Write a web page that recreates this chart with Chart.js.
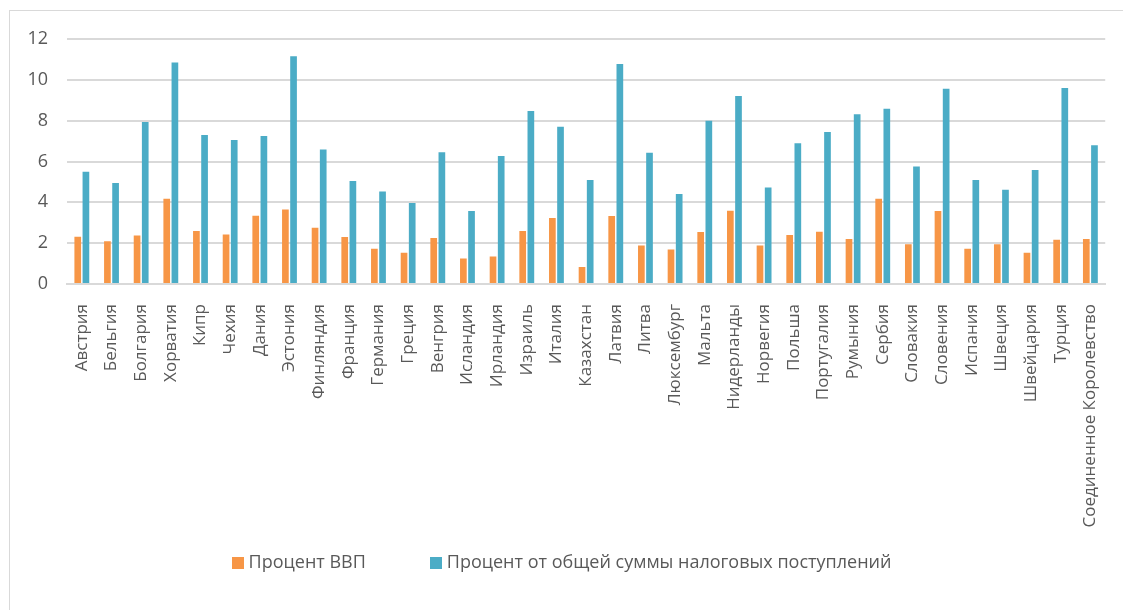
<!DOCTYPE html>
<html>
<head>
<meta charset="utf-8">
<script src="https://cdn.jsdelivr.net/npm/chart.js@4"></script>
<style>
  html, body { margin: 0; padding: 0; background: #fff; overflow: hidden; }
  #wrap { position: absolute; left: 9px; top: 10px; width: 1200px; height: 700px; border: 1px solid #d9d9d9; }
  #chart { position: absolute; left: 0; top: 0; }
  #legend { position: absolute; left: 0; top: 549px; width: 1123px; text-align: center;
            font: 18px 'Open Sans', sans-serif; color: #595959; line-height: 24px; white-space: nowrap; }
  #legend span.item { display: inline-block; margin: 0 32px; }
  #legend span.box { display: inline-block; width: 12px; height: 12px; margin-right: 5px; vertical-align: -1px; }
</style>
</head>
<body>
<div id="wrap"></div>
<canvas id="chart" width="1123" height="610"></canvas>
<div id="legend"></div>
<script>
// countries
const countries = ["Австрия", "Бельгия", "Болгария", "Хорватия", "Кипр", "Чехия", "Дания", "Эстония",
    "Финляндия", "Франция", "Германия", "Греция", "Венгрия", "Исландия", "Ирландия", "Израиль",
    "Италия", "Казахстан", "Латвия", "Литва", "Люксембург", "Мальта", "Нидерланды", "Норвегия",
    "Польша", "Португалия", "Румыния", "Сербия", "Словакия", "Словения", "Испания", "Швеция",
    "Швейцария", "Турция", "Соединенное Королевство"];

const gdpPct = [2.32, 2.09, 2.38, 4.18, 2.59, 2.43, 3.34, 3.65, 2.76, 2.30, 1.73, 1.53, 2.25, 1.25,
    1.35, 2.59, 3.23, 0.83, 3.33, 1.89, 1.69, 2.55, 3.59, 1.88, 2.40, 2.56, 2.20, 4.18, 1.95, 3.57,
    1.73, 1.95, 1.53, 2.17, 2.20];

const taxPct = [5.50, 4.95, 7.93, 10.85, 7.30, 7.05, 7.25, 11.15, 6.59, 5.04, 4.53, 3.97, 6.45, 3.57,
    6.27, 8.47, 7.70, 5.09, 10.77, 6.43, 4.41, 7.99, 9.21, 4.73, 6.90, 7.44, 8.31, 8.58, 5.76, 9.56,
    5.09, 4.62, 5.58, 9.60, 6.79];

const seriesNames = ["Процент ВВП", "Процент от общей суммы налоговых поступлений"];
const seriesColors = ["#f79646", "#4bacc6"];

const FONT = "'Open Sans', sans-serif";
const TEXT = "#595959";

const ctx = document.getElementById("chart");
const chart = new Chart(ctx, {
    type: "bar",
    data: {
        labels: countries,
        datasets: [{
            label: seriesNames[0],
            data: gdpPct,
            backgroundColor: seriesColors[0],
            categoryPercentage: 0.55,
            barPercentage: 0.82
        }, {
            label: seriesNames[1],
            data: taxPct,
            backgroundColor: seriesColors[1],
            categoryPercentage: 0.55,
            barPercentage: 0.82
        }]
    },
    options: {
        responsive: false,
        animation: false,
        layout: { padding: { left: 20, top: 39, right: 15, bottom: 71 } },
        plugins: {
            legend: { display: false },
            tooltip: { enabled: false }
        },
        scales: {
            x: {
                grid: { display: false },
                border: { color: "#d9d9d9", width: 2 },
                ticks: {
                    color: TEXT,
                    font: { family: FONT, size: 17 },
                    minRotation: 90,
                    maxRotation: 90,
                    autoSkip: false,
                    padding: 12
                },
                afterFit: (axis) => { axis.height = 255; }
            },
            y: {
                min: 0,
                max: 12,
                ticks: {
                    stepSize: 2,
                    color: TEXT,
                    font: { family: FONT, size: 18 },
                    padding: 19
                },
                grid: { color: "#d9d9d9", lineWidth: 2, drawTicks: false },
                border: { display: false },
                afterFit: (axis) => { axis.width = 47; }
            }
        }
    }
});

// legend built from the chart's datasets
const legendBox = document.getElementById("legend");
chart.data.datasets.forEach((ds) => {
    const item = document.createElement("span");
    item.className = "item";
    const box = document.createElement("span");
    box.className = "box";
    box.style.background = ds.backgroundColor;
    item.appendChild(box);
    item.appendChild(document.createTextNode(ds.label));
    legendBox.appendChild(item);
});
</script>
</body>
</html>
